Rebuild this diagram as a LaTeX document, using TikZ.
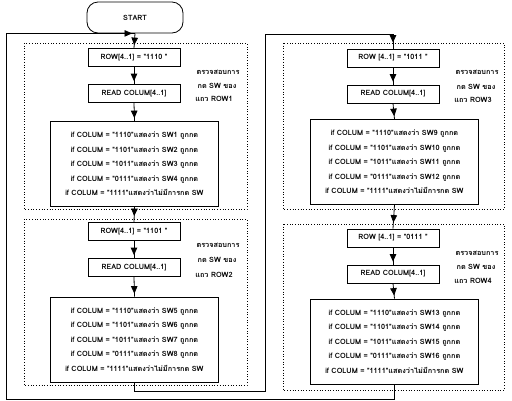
\documentclass[tikz,border=0pt]{standalone}
\usepackage{fontspec}
\newfontfamily\thaifont[Script=Thai]{Loma}
\usetikzlibrary{arrows.meta,decorations.markings}

\begin{document}
\begin{tikzpicture}[x=1pt, y=-1pt, line width=0.8pt,
    every node/.style={font=\thaifont\bfseries\fontsize{7.3}{9}\selectfont, inner sep=0pt},
    box/.style={draw, minimum width=92pt, minimum height=18pt},
    bigbox/.style={draw, minimum width=168pt, minimum height=85pt, align=center,
        font=\thaifont\bfseries\fontsize{7.3}{14.5}\selectfont},
    panel/.style={dotted, line width=0.7pt},
    flow/.style={draw, postaction={decorate}, decoration={markings,
        mark=at position -3pt with {\arrow{Triangle[width=6.5pt,length=7.5pt]}}}},
    flowmid/.style={draw, postaction={decorate}, decoration={markings,
        mark=at position -6pt with {\arrow{Triangle[width=6.5pt,length=7.5pt]}}}}]
    \useasboundingbox (0,0) rectangle (512,400);
    \node[draw, rounded corners=11pt, minimum width=96pt, minimum height=31pt] (start) at (135,17.5) {START};
    % left column
    \draw [panel] (24,43) rectangle (247,209);
    \node[box] (row1) at (134,57.5) {ROW[4..1] = "1110 "};
    \node[box] (read1) at (134,93.5) {READ COLUM[4..1]};
    \node[bigbox] (big1) at (134.5,164) {if COLUM = "1110"แสดงว่า SW1 ถูกกด\\ if COLUM = "1101"แสดงว่า SW2 ถูกกด\\ if COLUM = "1011"แสดงว่า SW3 ถูกกด\\ if COLUM = "0111"แสดงว่า SW4 ถูกกด\\ if COLUM = "1111"แสดงว่าไม่มีการกด SW};
    \node (note1a) at (218,72) {ตรวจสอบการ};
    \node (note1b) at (217,86) {กด SW ของ};
    \node (note1c) at (214,99) {แถว ROW1};
    \draw [panel] (24,219) rectangle (247,385);
    \node[box] (row2) at (134,231.5) {ROW[4..1] = "1101 "};
    \node[box] (read2) at (134,267.5) {READ COLUM[4..1]};
    \node[bigbox] (big2) at (134.5,339.5) {if COLUM = "1110"แสดงว่า SW5 ถูกกด\\ if COLUM = "1101"แสดงว่า SW6 ถูกกด\\ if COLUM = "1011"แสดงว่า SW7 ถูกกด\\ if COLUM = "0111"แสดงว่า SW8 ถูกกด\\ if COLUM = "1111"แสดงว่าไม่มีการกด SW};
    \node (note2a) at (218,245) {ตรวจสอบการ};
    \node (note2b) at (217,260) {กด SW ของ};
    \node (note2c) at (214,275) {แถว ROW2};
    % right column
    \draw [panel] (283,43) rectangle (504,209);
    \node[box] (row3) at (393,58) {ROW [4..1] = "1011 "};
    \node[box] (read3) at (393,94) {READ COLUM[4..1]};
    \node[bigbox] (big3) at (394.5,162) {if COLUM = "1110"แสดงว่า SW9 ถูกกด\\ if COLUM = "1101"แสดงว่า SW10 ถูกกด\\ if COLUM = "1011"แสดงว่า SW11 ถูกกด\\ if COLUM = "0111"แสดงว่า SW12 ถูกกด\\ if COLUM = "1111"แสดงว่าไม่มีการกด SW};
    \node (note3a) at (477,72) {ตรวจสอบการ};
    \node (note3b) at (476,87) {กด SW ของ};
    \node (note3c) at (473,100) {แถว ROW3};
    \draw [panel] (283,224) rectangle (504,390);
    \node[box] (row4) at (393,238) {ROW [4..1] = "0111 "};
    \node[box] (read4) at (393,274) {READ COLUM[4..1]};
    \node[bigbox] (big4) at (394.5,341.5) {if COLUM = "1110"แสดงว่า SW13 ถูกกด\\ if COLUM = "1101"แสดงว่า SW14 ถูกกด\\ if COLUM = "1011"แสดงว่า SW15 ถูกกด\\ if COLUM = "0111"แสดงว่า SW16 ถูกกด\\ if COLUM = "1111"แสดงว่าไม่มีการกด SW};
    \node (note4a) at (477,253) {ตรวจสอบการ};
    \node (note4b) at (476,267) {กด SW ของ};
    \node (note4c) at (473,281) {แถว ROW4};
    % connectors
    \coordinate (loopL) at (6,399);
    \coordinate (loopR) at (265,391);
    \coordinate (loopRt) at (265,34);
    \path [flow] (start.south) -- (row1.north);
    \path [flow] (row1.south) -- (read1.north);
    \path [flow] (read1.south) -- (big1.north);
    \path [flowmid] (big1.south) -- (row2.north);
    \path [flow] (row2.south) -- (read2.north);
    \path [flow] (read2.south) -- (big2.north);
    \path [flowmid] (big2.south) |- (loopR) -- (loopRt) -| (row3.north);
    \path [flow] (row3.south) -- (read3.north);
    \path [flow] (read3.south) -- (big3.north);
    \path [flowmid] (big3.south) -- (row4.north);
    \path [flow] (row4.south) -- (read4.north);
    \path [flow] (read4.south) -- (big4.north);
    \path [flow] (big4.south) |- (loopL) |- (start.south);
\end{tikzpicture}
\end{document}
